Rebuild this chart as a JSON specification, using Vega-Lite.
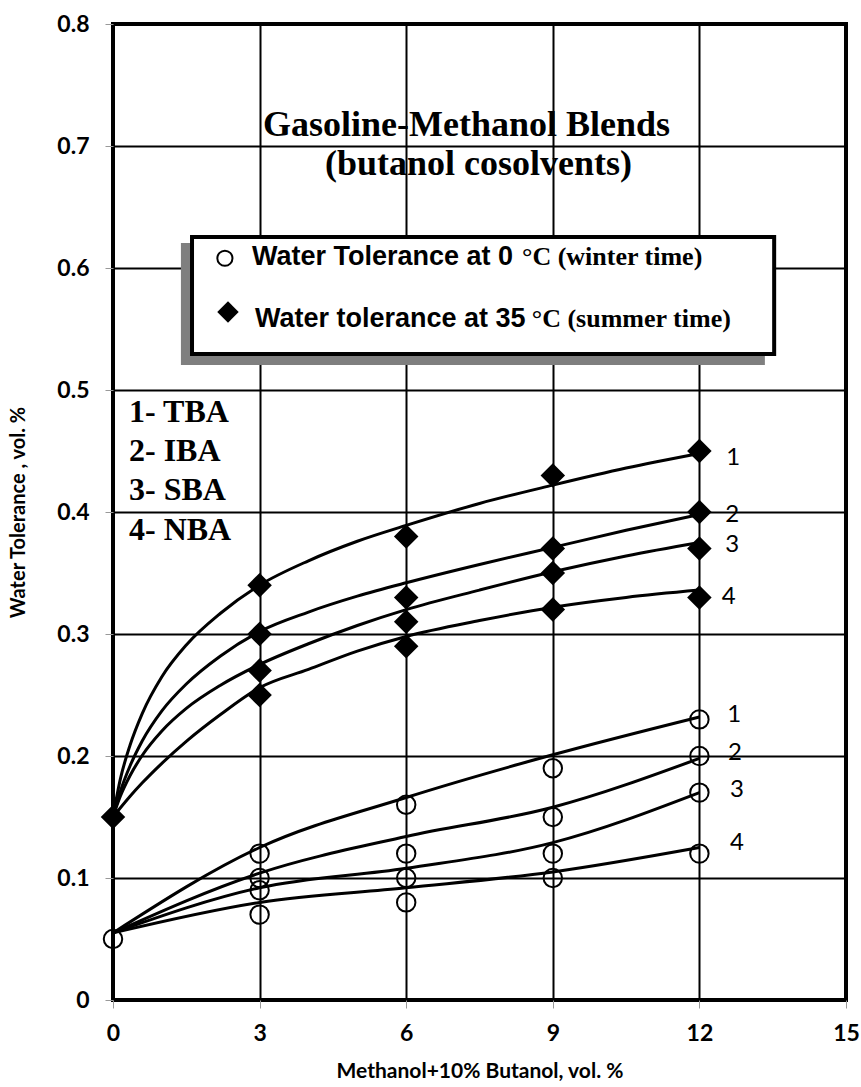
{
"$schema":"https://vega.github.io/schema/vega-lite/v6.json",
"width":733,"height":976,
"autosize":{"type":"none"},
"padding":{"left":113,"top":24,"right":15,"bottom":87},
"background":"white",
"config":{"view":{"stroke":"black","strokeWidth":4},
 "axis":{"grid":true,"gridColor":"black","gridWidth":2,"gridOpacity":1,"domain":false,"ticks":true,"tickColor":"#999999","tickSize":8,"tickWidth":1,"labelFont":"Lato","labelFontSize":23,"labelFontWeight":"bold","labelColor":"black","titleFont":"Lato","titleFontWeight":"bold","titleColor":"black","labelFlush":false,"labelOverlap":false}},
"datasets":{
 "box":[
  {"kind":"shadow","x":1.39,"x2":13.34,"y":0.6205,"y2":0.5205},
  {"kind":"box","x":1.617,"x2":13.53,"y":0.6254,"y2":0.5295}
 ],
 "curves":[
  {"s":"S1","x":0,"y":0.15},{"s":"S1","x":0.15,"y":0.181},{"s":"S1","x":0.35,"y":0.209},{"s":"S1","x":0.6,"y":0.235},{"s":"S1","x":1,"y":0.265},{"s":"S1","x":1.5,"y":0.291},{"s":"S1","x":2.2,"y":0.317},{"s":"S1","x":3,"y":0.34},{"s":"S1","x":4,"y":0.36},{"s":"S1","x":5,"y":0.376},{"s":"S1","x":6,"y":0.389},{"s":"S1","x":7.5,"y":0.407},{"s":"S1","x":9,"y":0.422},{"s":"S1","x":10.5,"y":0.436},{"s":"S1","x":12,"y":0.448},
  {"s":"S2","x":0,"y":0.15},{"s":"S2","x":0.15,"y":0.171},{"s":"S2","x":0.35,"y":0.192},{"s":"S2","x":0.6,"y":0.2125},{"s":"S2","x":1,"y":0.237},{"s":"S2","x":1.5,"y":0.259},{"s":"S2","x":2.2,"y":0.282},{"s":"S2","x":3,"y":0.302},{"s":"S2","x":4,"y":0.318},{"s":"S2","x":5,"y":0.331},{"s":"S2","x":6,"y":0.342},{"s":"S2","x":7.5,"y":0.357},{"s":"S2","x":9,"y":0.371},{"s":"S2","x":10.5,"y":0.385},{"s":"S2","x":12,"y":0.398},
  {"s":"S3","x":0,"y":0.15},{"s":"S3","x":0.15,"y":0.167},{"s":"S3","x":0.35,"y":0.184},{"s":"S3","x":0.6,"y":0.2006},{"s":"S3","x":1,"y":0.2205},{"s":"S3","x":1.5,"y":0.239},{"s":"S3","x":2.2,"y":0.258},{"s":"S3","x":3,"y":0.275},{"s":"S3","x":4,"y":0.292},{"s":"S3","x":5,"y":0.307},{"s":"S3","x":6,"y":0.32},{"s":"S3","x":7.5,"y":0.336},{"s":"S3","x":9,"y":0.351},{"s":"S3","x":10.5,"y":0.364},{"s":"S3","x":12,"y":0.375},
  {"s":"S4","x":0,"y":0.15},{"s":"S4","x":0.35,"y":0.167},{"s":"S4","x":0.6,"y":0.178},{"s":"S4","x":1,"y":0.194},{"s":"S4","x":1.5,"y":0.212},{"s":"S4","x":2.2,"y":0.234},{"s":"S4","x":3,"y":0.256},{"s":"S4","x":4,"y":0.271},{"s":"S4","x":5,"y":0.286},{"s":"S4","x":6,"y":0.298},{"s":"S4","x":7.5,"y":0.311},{"s":"S4","x":9,"y":0.322},{"s":"S4","x":10.5,"y":0.33},{"s":"S4","x":12,"y":0.336},
  {"s":"W1","x":0,"y":0.055},{"s":"W1","x":3,"y":0.125},{"s":"W1","x":6,"y":0.166},{"s":"W1","x":9,"y":0.201},{"s":"W1","x":12,"y":0.232},
  {"s":"W2","x":0,"y":0.055},{"s":"W2","x":3,"y":0.104},{"s":"W2","x":6,"y":0.134},{"s":"W2","x":9,"y":0.158},{"s":"W2","x":12,"y":0.198},
  {"s":"W3","x":0,"y":0.055},{"s":"W3","x":3,"y":0.092},{"s":"W3","x":6,"y":0.108},{"s":"W3","x":9,"y":0.129},{"s":"W3","x":12,"y":0.17},
  {"s":"W4","x":0,"y":0.055},{"s":"W4","x":3,"y":0.08},{"s":"W4","x":6,"y":0.092},{"s":"W4","x":9,"y":0.105},{"s":"W4","x":12,"y":0.125}
 ],
 "pts":[
  {"role":"data","season":"winter","x":0,"y":0.05},
  {"role":"data","season":"winter","x":3,"y":0.12},{"role":"data","season":"winter","x":3,"y":0.10},{"role":"data","season":"winter","x":3,"y":0.09},{"role":"data","season":"winter","x":3,"y":0.07},
  {"role":"data","season":"winter","x":6,"y":0.16},{"role":"data","season":"winter","x":6,"y":0.12},{"role":"data","season":"winter","x":6,"y":0.10},{"role":"data","season":"winter","x":6,"y":0.08},
  {"role":"data","season":"winter","x":9,"y":0.19},{"role":"data","season":"winter","x":9,"y":0.15},{"role":"data","season":"winter","x":9,"y":0.12},{"role":"data","season":"winter","x":9,"y":0.10},
  {"role":"data","season":"winter","x":12,"y":0.23},{"role":"data","season":"winter","x":12,"y":0.20},{"role":"data","season":"winter","x":12,"y":0.17},{"role":"data","season":"winter","x":12,"y":0.12},
  {"role":"data","season":"summer","x":0,"y":0.15},
  {"role":"data","season":"summer","x":3,"y":0.34},{"role":"data","season":"summer","x":3,"y":0.30},{"role":"data","season":"summer","x":3,"y":0.27},{"role":"data","season":"summer","x":3,"y":0.25},
  {"role":"data","season":"summer","x":6,"y":0.38},{"role":"data","season":"summer","x":6,"y":0.33},{"role":"data","season":"summer","x":6,"y":0.31},{"role":"data","season":"summer","x":6,"y":0.29},
  {"role":"data","season":"summer","x":9,"y":0.43},{"role":"data","season":"summer","x":9,"y":0.37},{"role":"data","season":"summer","x":9,"y":0.35},{"role":"data","season":"summer","x":9,"y":0.32},
  {"role":"data","season":"summer","x":12,"y":0.45},{"role":"data","season":"summer","x":12,"y":0.40},{"role":"data","season":"summer","x":12,"y":0.37},{"role":"data","season":"summer","x":12,"y":0.33},
  {"role":"legend","season":"winter","x":2.29,"y":0.608},
  {"role":"legend","season":"summer","x":2.353,"y":0.564}
 ],
 "notes":[
  {"kind":"title","label":"Gasoline-Methanol Blends","x":3.07,"y":0.708},
  {"kind":"title","label":"(butanol cosolvents)","x":4.34,"y":0.676},
  {"kind":"alc","label":"1- TBA","x":0.327,"y":0.474},
  {"kind":"alc","label":"2- IBA","x":0.327,"y":0.442},
  {"kind":"alc","label":"3- SBA","x":0.327,"y":0.41},
  {"kind":"alc","label":"4- NBA","x":0.327,"y":0.377},
  {"kind":"legsans","label":"Water Tolerance at 0","x":2.844,"y":0.6025},
  {"kind":"legsans","label":"Water tolerance at 35","x":2.906,"y":0.5516},
  {"kind":"legserif","label":"°C (winter time)","x":8.37,"y":0.6025},
  {"kind":"legserif","label":"°C (summer time)","x":8.57,"y":0.5516},
  {"kind":"num","label":"1","x":12.69,"y":0.444},
  {"kind":"num","label":"2","x":12.67,"y":0.3975},
  {"kind":"num","label":"3","x":12.67,"y":0.373},
  {"kind":"num","label":"4","x":12.6,"y":0.33},
  {"kind":"num","label":"1","x":12.71,"y":0.2336},
  {"kind":"num","label":"2","x":12.73,"y":0.2025},
  {"kind":"num","label":"3","x":12.77,"y":0.172},
  {"kind":"num","label":"4","x":12.77,"y":0.1287}
 ]
},
"encoding":{
 "x":{"field":"x","type":"quantitative","scale":{"domain":[0,15],"nice":false,"zero":false},"axis":{"values":[0,3,6,9,12,15],"title":"Methanol+10% Butanol, vol. %","titleFontSize":21,"titleY":71,"titleBaseline":"middle","labelPadding":14}},
 "y":{"field":"y","type":"quantitative","scale":{"domain":[0,0.8],"nice":false,"zero":false},"axis":{"values":[0,0.1,0.2,0.3,0.4,0.5,0.6,0.7,0.8],"format":".1~f","title":"Water Tolerance , vol. %","titleFontSize":20,"titleX":-95,"titleY":488,"titleAngle":-90,"titleAlign":"center","titleBaseline":"middle","labelPadding":16}}
},
"layer":[
 {"data":{"name":"box"},"transform":[{"filter":"datum.kind==='shadow'"}],"mark":{"type":"rect","fill":"#7f7f7f"},"encoding":{"x2":{"field":"x2"},"y2":{"field":"y2"}}},
 {"data":{"name":"box"},"transform":[{"filter":"datum.kind==='box'"}],"mark":{"type":"rect","fill":"white","stroke":"black","strokeWidth":4},"encoding":{"x2":{"field":"x2"},"y2":{"field":"y2"}}},
 {"data":{"name":"curves"},"mark":{"type":"line","interpolate":"monotone","color":"black","strokeWidth":3},"encoding":{"detail":{"field":"s"}}},
 {"data":{"name":"pts"},"transform":[{"filter":"datum.role==='data' && datum.season==='winter'"}],"mark":{"type":"point","shape":"circle","filled":false,"stroke":"black","strokeWidth":2,"size":340,"opacity":1}},
 {"data":{"name":"pts"},"transform":[{"filter":"datum.role==='data' && datum.season==='summer'"}],"mark":{"type":"point","shape":"diamond","filled":true,"color":"black","size":600,"opacity":1}},
 {"data":{"name":"pts"},"transform":[{"filter":"datum.role==='legend' && datum.season==='winter'"}],"mark":{"type":"point","shape":"circle","filled":false,"stroke":"black","strokeWidth":2,"size":230,"opacity":1}},
 {"data":{"name":"pts"},"transform":[{"filter":"datum.role==='legend' && datum.season==='summer'"}],"mark":{"type":"point","shape":"diamond","filled":true,"color":"black","size":460,"opacity":1}},
 {"data":{"name":"notes"},"transform":[{"filter":"datum.kind==='title'"}],"mark":{"type":"text","font":"Liberation Serif","fontWeight":"bold","fontSize":36,"align":"left","baseline":"alphabetic","color":"black"},"encoding":{"text":{"field":"label"}}},
 {"data":{"name":"notes"},"transform":[{"filter":"datum.kind==='alc'"}],"mark":{"type":"text","font":"Liberation Serif","fontWeight":"bold","fontSize":32,"align":"left","baseline":"alphabetic","color":"black"},"encoding":{"text":{"field":"label"}}},
 {"data":{"name":"notes"},"transform":[{"filter":"datum.kind==='legsans'"}],"mark":{"type":"text","font":"Liberation Sans","fontWeight":"bold","fontSize":27,"align":"left","baseline":"alphabetic","color":"black"},"encoding":{"text":{"field":"label"}}},
 {"data":{"name":"notes"},"transform":[{"filter":"datum.kind==='legserif'"}],"mark":{"type":"text","font":"Liberation Serif","fontWeight":"bold","fontSize":26,"align":"left","baseline":"alphabetic","color":"black"},"encoding":{"text":{"field":"label"}}},
 {"data":{"name":"notes"},"transform":[{"filter":"datum.kind==='num'"}],"mark":{"type":"text","font":"Lato","fontSize":24,"align":"center","baseline":"middle","color":"black"},"encoding":{"text":{"field":"label"}}}
]
}
